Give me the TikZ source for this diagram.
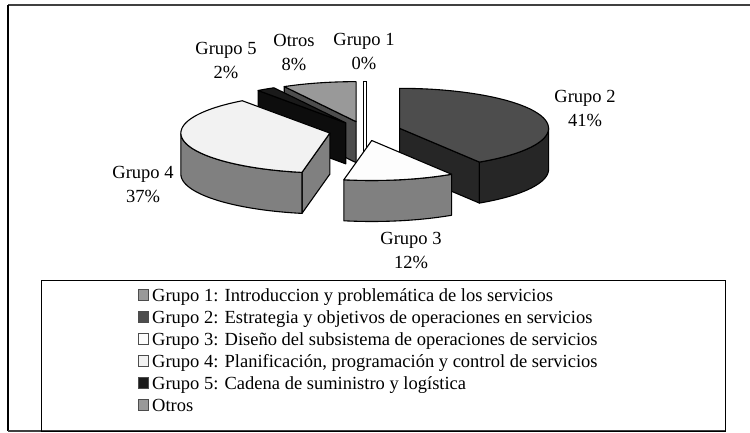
\documentclass[tikz,border=0pt]{standalone}
\usepackage{fontspec}
\setmainfont{Liberation Serif}
\definecolor{gA}{HTML}{999999}
\definecolor{gAside}{HTML}{4D4D4D}
\definecolor{gB}{HTML}{4D4D4D}
\definecolor{gBside}{HTML}{262626}
\definecolor{gC}{HTML}{FDFDFD}
\definecolor{gCside}{HTML}{808080}
\definecolor{gD}{HTML}{F2F2F2}
\definecolor{gDside}{HTML}{808080}
\definecolor{gE}{HTML}{1A1A1A}
\definecolor{gEside}{HTML}{0D0D0D}
\definecolor{frameg}{HTML}{404040}
% slice geometry
\newcommand{\slicesetup}[2]{%
  \pgfmathsetmacro{\slmid}{(#1+#2)/2}%
  \pgfmathsetmacro{\slcx}{365+36*sin(\slmid)}%
  \pgfmathsetmacro{\slcy}{131-36*cos(\slmid)*40/149}%
  \def\sla{#1}\def\slb{#2}}
\newcommand{\topface}[1]{%
  \draw[slice,fill=#1] (\slcx,\slcy) -- plot[domain=\sla:\slb,samples=60,variable=\t]
    ({\slcx+149*sin(\t)},{\slcy-40*cos(\t)}) -- cycle;}
\newcommand{\outerside}[3]{%
  \draw[slice,fill=#3] plot[domain=#1:#2,samples=60,variable=\t]
    ({\slcx+149*sin(\t)},{\slcy-40*cos(\t)}) --
    plot[domain=#2:#1,samples=60,variable=\t]
    ({\slcx+149*sin(\t)},{\slcy-40*cos(\t)+41}) -- cycle;}
\newcommand{\cutface}[2]{%
  \draw[slice,fill=#2] (\slcx,\slcy) -- ({\slcx+149*sin(#1)},{\slcy-40*cos(#1)})
    -- ({\slcx+149*sin(#1)},{\slcy-40*cos(#1)+41}) -- (\slcx,\slcy+41) -- cycle;}
\begin{document}
\begin{tikzpicture}[x=1pt,y=-1pt,
  slice/.style={draw=black,line width=1.1pt,line join=round},
  lbl/.style={font=\fontsize{18.5}{24}\selectfont,align=center,inner sep=0pt},
  legtext/.style={font=\fontsize{18.5}{22}\selectfont,anchor=base west,inner sep=0pt},
  legkey/.style={draw=black!70,line width=0.8pt,minimum size=10.5pt,inner sep=0pt},
]
\useasboundingbox (0,0) rectangle (750,433);
% outer frame
\draw[frameg,line width=2pt] (8,5) -- (750,5);
\draw[black,line width=1.3pt] (8,5) -- (8,431);
\draw[frameg,line width=2.5pt] (8,431) -- (725,431);
% legend box
\node[draw=black,line width=1pt,minimum width=684pt,minimum height=151pt,inner sep=0pt,anchor=north west] (legend) at (41,280) {};

% Otros
\slicesetup{331.2}{360}
\cutface{331.2}{gAside}
\topface{gA}
% Grupo 1 (0%)
\node[draw=black,fill=white,line width=0.9pt,minimum width=3pt,minimum height=81pt,inner sep=0pt,anchor=north] (g1) at (365,81.3) {};
% Grupo 5
\slicesetup{324}{331.2}
\cutface{324}{gEside}
\topface{gE}
% Grupo 4
\slicesetup{190.8}{324}
\cutface{190.8}{gDside}
\outerside{190.8}{270}{gDside}
\topface{gD}
% Grupo 2
\slicesetup{0}{147.6}
\cutface{147.6}{gBside}
\outerside{90}{147.6}{gBside}
\topface{gB}
% Grupo 3
\slicesetup{147.6}{190.8}
\outerside{147.6}{190.8}{gCside}
\topface{gC}

% data labels
\node[lbl] (l2) at (585,108.5) {Grupo 2\\41\%};
\node[lbl] (l3) at (411,250) {Grupo 3\\12\%};
\node[lbl] (l4) at (143,184) {Grupo 4\\37\%};
\node[lbl] (l5) at (226,60) {Grupo 5\\2\%};
\node[lbl] (l6) at (294,52) {Otros\\8\%};
\node[lbl] (l1) at (364,51) {Grupo 1\\0\%};

% legend entries
\node[legkey,fill=gA] (k1) at (143.5,295) {};
\node[legtext] (t1) at (152,301) {Grupo 1: Introduccion y problemática de los servicios};
\node[legkey,fill=gB] (k2) at (143.5,317) {};
\node[legtext] (t2) at (152,323) {Grupo 2: Estrategia y objetivos de operaciones en servicios};
\node[legkey,fill=gC] (k3) at (143.5,339) {};
\node[legtext] (t3) at (152,345) {Grupo 3: Diseño del subsistema de operaciones de servicios};
\node[legkey,fill=gD] (k4) at (143.5,361) {};
\node[legtext] (t4) at (152,367) {Grupo 4: Planificación, programación y control de servicios};
\node[legkey,fill=gE] (k5) at (143.5,383) {};
\node[legtext] (t5) at (152,389) {Grupo 5: Cadena de suministro y logística};
\node[legkey,fill=gA] (k6) at (143.5,405) {};
\node[legtext] (t6) at (152,411) {Otros};
\end{tikzpicture}
\end{document}
